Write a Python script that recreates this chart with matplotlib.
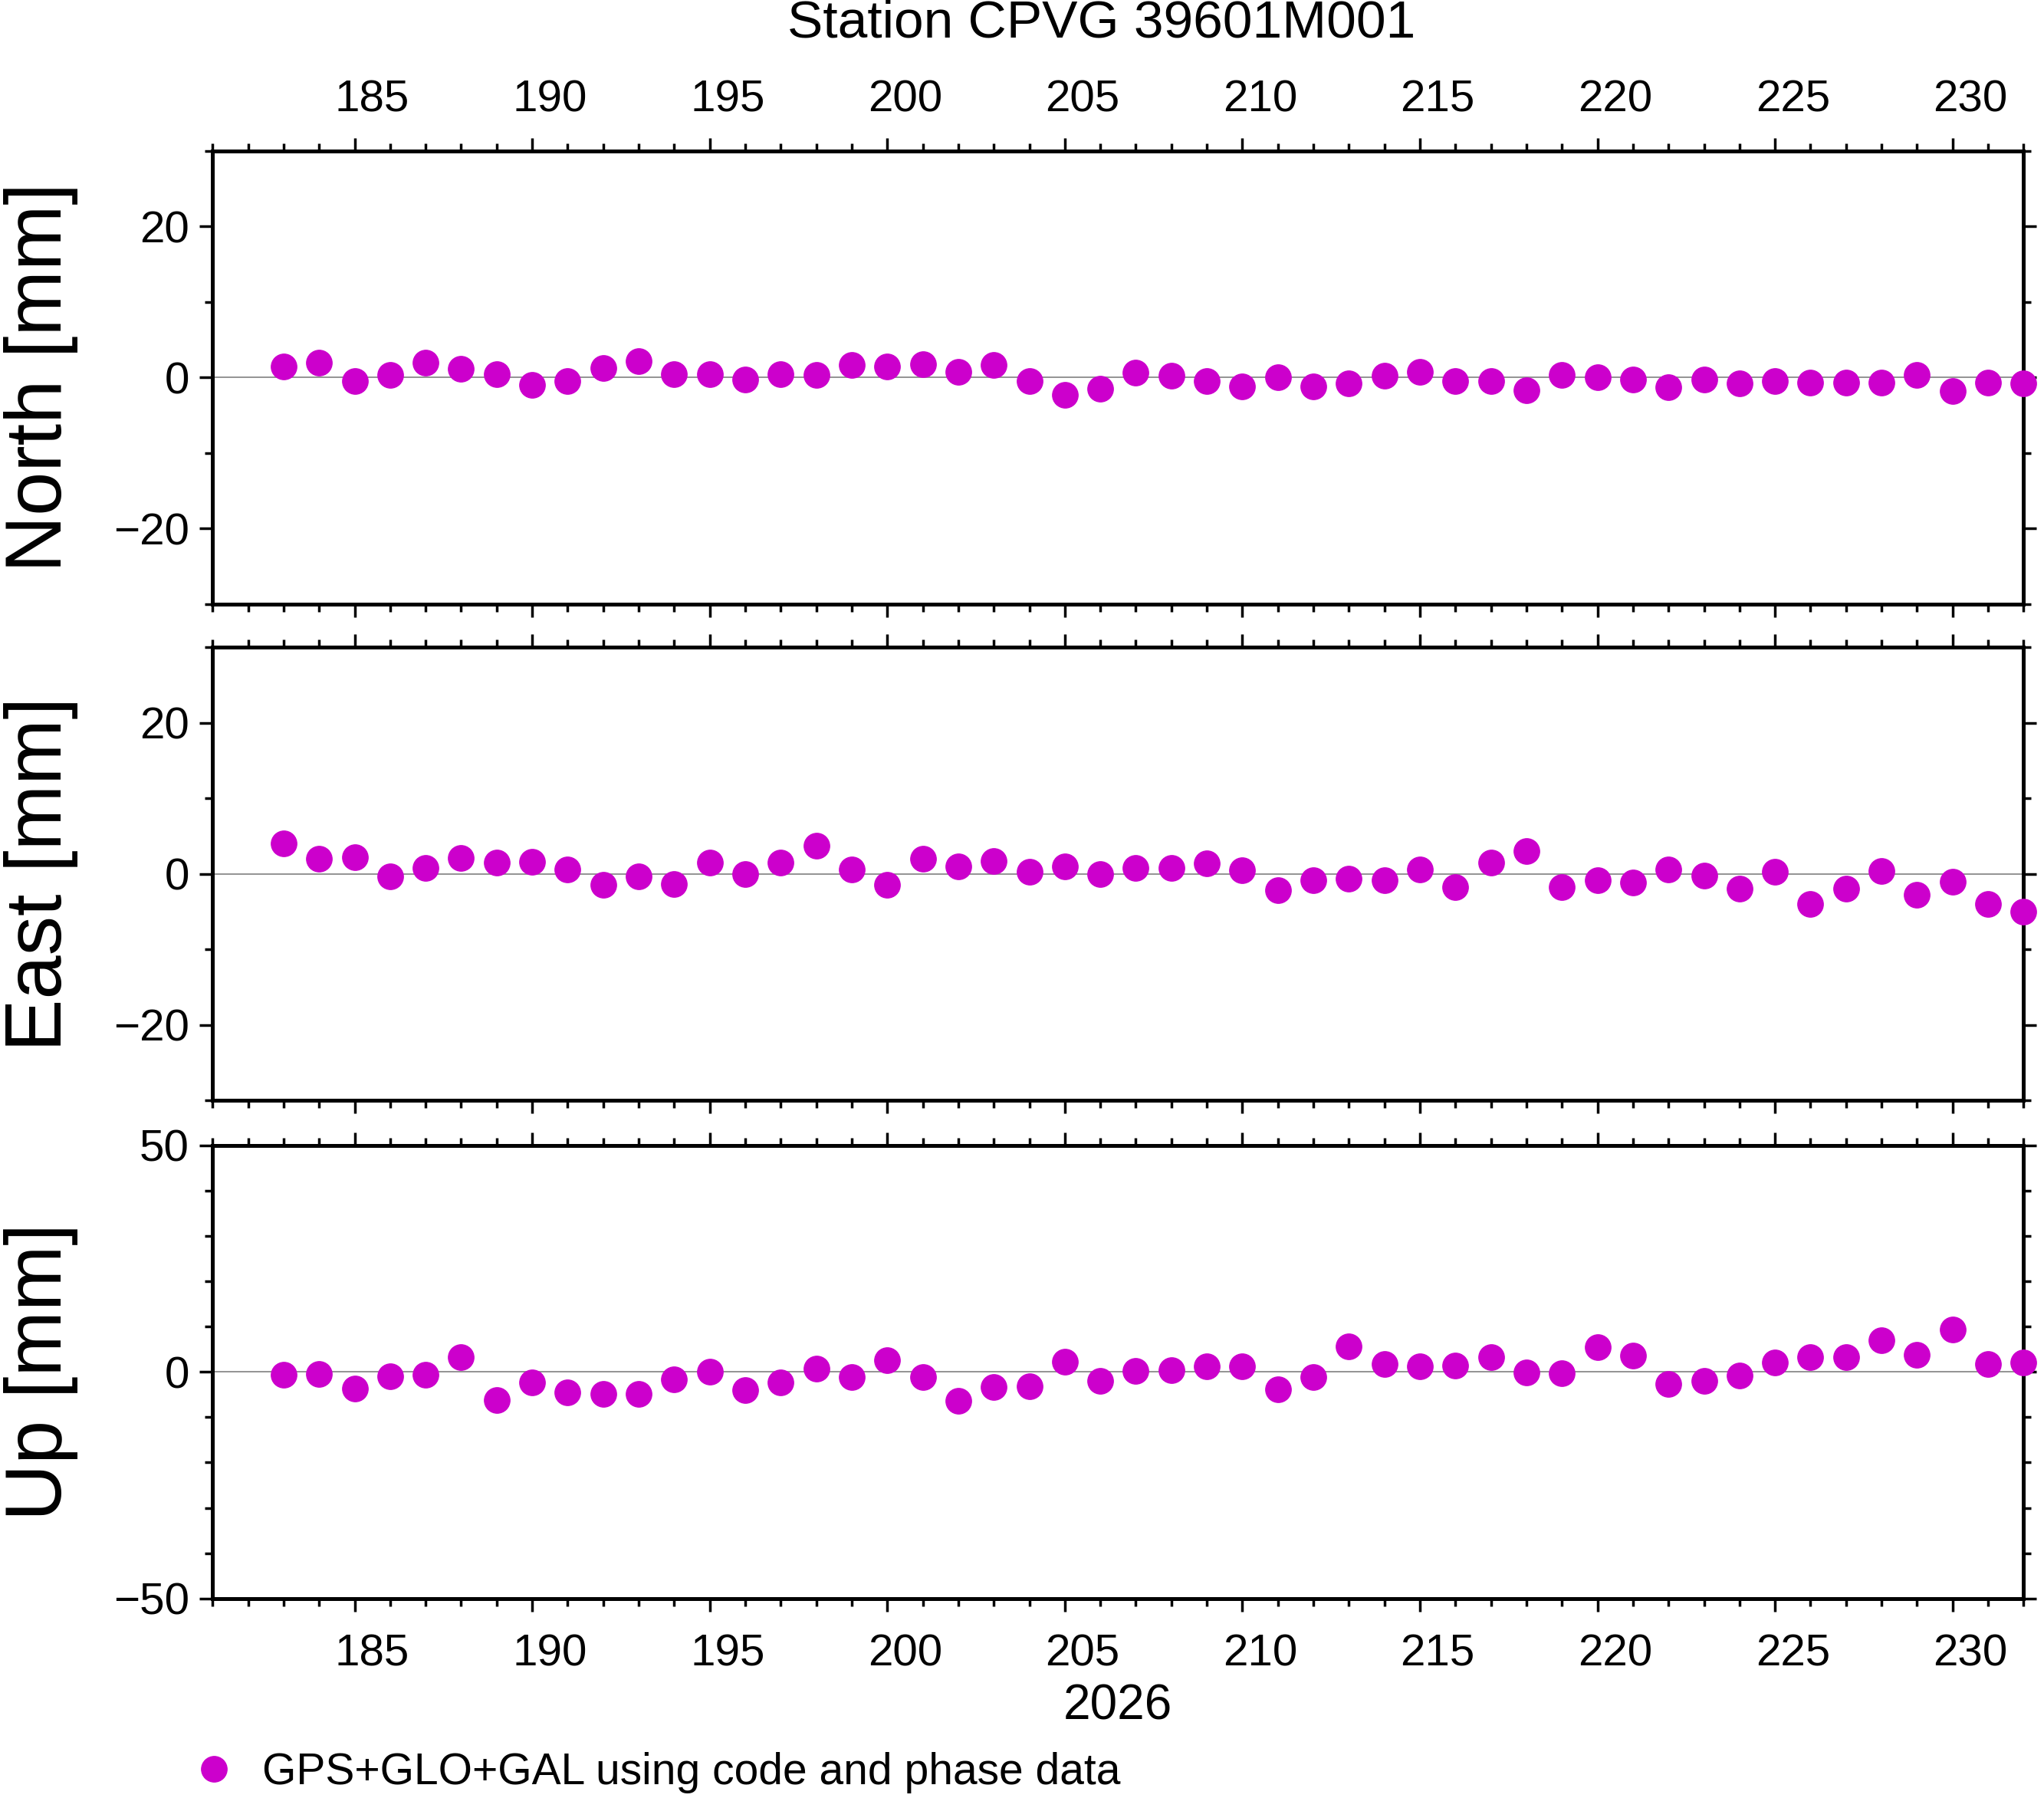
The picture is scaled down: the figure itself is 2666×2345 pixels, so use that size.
import matplotlib.pyplot as plt
import numpy as np
from matplotlib.lines import Line2D

plt.rcParams['font.family'] = ['Liberation Sans', 'DejaVu Sans']

days = np.arange(183, 233)
north = [1.5, 2, -0.5, 0.3, 2, 1.2, 0.5, -1, -0.5, 1.3, 2.2, 0.5, 0.5, -0.3, 0.5, 0.3, 1.7, 1.5, 1.8, 0.8,
         1.7, -0.5, -2.3, -1.5, 0.7, 0.2, -0.5, -1.2, 0, -1.2, -0.8, 0.2, 0.8, -0.5, -0.5, -1.7, 0.3, 0, -0.3, -1.3,
         -0.3, -0.8, -0.5, -0.7, -0.7, -0.7, 0.3, -1.8, -0.7, -0.8]
east = [4, 2, 2.2, -0.3, 0.8, 2.1, 1.5, 1.6, 0.6, -1.5, -0.3, -1.4, 1.5, 0, 1.5, 3.7, 0.6, -1.5, 2, 1,
        1.7, 0.3, 1, 0, 0.8, 0.8, 1.4, 0.5, -2.2, -0.8, -0.6, -0.8, 0.6, -1.8, 1.5, 3, -1.8, -0.8, -1.1, 0.6,
        -0.2, -2, 0.3, -4, -2, 0.4, -2.8, -1, -4, -5]
up = [-0.7, -0.5, -3.7, -1, -0.7, 3.2, -6.2, -2.3, -4.6, -4.9, -4.9, -1.6, 0, -4, -2.4, 0.8, -1.1, 2.6, -1.2, -6.4,
      -3.4, -3.1, 2.3, -2, 0.2, 0.4, 1.2, 1.2, -3.9, -1.2, 5.7, 1.7, 1.2, 1.4, 3.2, -0.1, -0.3, 5.4, 3.6, -2.6,
      -2, -0.8, 2, 3.2, 3.2, 6.9, 3.7, 9.4, 1.7, 2]
labels = ['North [mm]', 'East [mm]', 'Up [mm]']
series = [north, east, up]
ylims = [(-30, 30), (-30, 30), (-50, 50)]
yticks = [[-20, 0, 20], [-20, 0, 20], [-50, 0, 50]]
col = '#cc00cc'

fig = plt.figure(figsize=(26.66, 23.45), dpi=100)
bottoms = [0.664, 0.388, 0.111]
h = 0.252
xt = np.arange(185, 231, 5)
for i in range(3):
    ax = fig.add_axes([0.104, bottoms[i], 0.886, h])
    ax.axhline(0, color='gray', lw=1.2, zorder=1)
    ax.plot(days, series[i], 'o', color=col, ms=24, mec=col, zorder=3, clip_on=False)
    ax.set_xlim(181, 232)
    ax.set_ylim(*ylims[i])
    ax.set_xticks(xt)
    ax.set_xticks(np.arange(181, 233), minor=True)
    ax.set_xticklabels([])
    yt = yticks[i]
    ax.set_yticks(yt)
    ax.set_yticks(np.arange(ylims[i][0], ylims[i][1] + 1, 10), minor=True)
    ax.set_yticklabels(['\u2212%d' % -v if v < 0 else str(v) for v in yt])
    for s in ax.spines.values():
        s.set_linewidth(3.6)
    ax.tick_params(which='both', direction='out', top=True, right=True, width=2.5, labelsize=42, pad=10)
    ax.tick_params(which='major', length=12)
    ax.tick_params(which='minor', length=7)
    ax.set_ylabel(labels[i], fontsize=74)
    ax.yaxis.set_label_coords(-0.074, 0.5)
    if i == 0:
        for d in xt:
            ax.text(d + 0.5, 1.112, str(d), transform=ax.get_xaxis_transform(),
                    ha='center', va='center', fontsize=42)
    if i == 2:
        for d in xt:
            ax.text(d + 0.5, -0.124, str(d), transform=ax.get_xaxis_transform(),
                    ha='center', va='center', fontsize=42)

fig.text(0.539, 0.987, 'Station CPVG 39601M001', ha='center', va='center', fontsize=50)
fig.text(0.547, 0.051, '2026', ha='center', va='center', fontsize=46)
h1 = Line2D([], [], marker='o', ls='', color=col, ms=24)
fig.legend([h1], ['GPS+GLO+GAL using code and phase data'], loc='center left',
           bbox_to_anchor=(0.092, 0.014), frameon=False, fontsize=41, handletextpad=0.5,
           borderaxespad=0, borderpad=0, handlelength=1.2)

fig.savefig('out.png')
